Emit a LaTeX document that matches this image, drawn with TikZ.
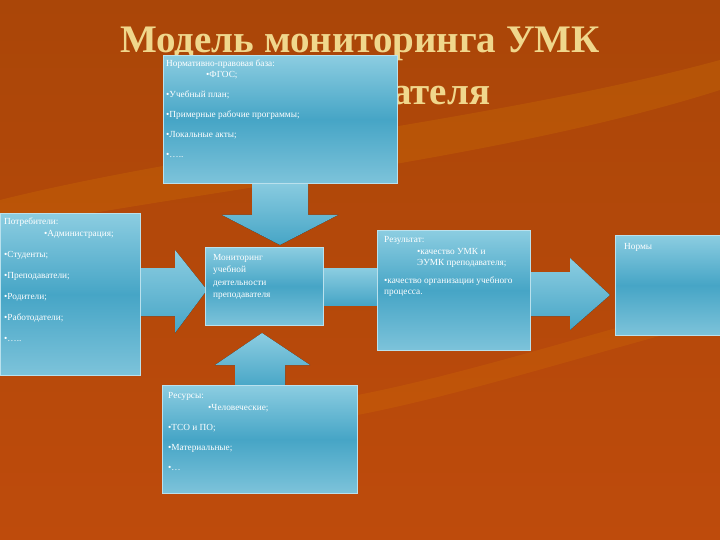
\documentclass[tikz,border=0pt]{standalone}
\usepackage{fontspec}
\setmainfont{Liberation Serif}
\definecolor{btop}{RGB}{140,205,225}
\definecolor{bmid}{RGB}{70,165,198}
\definecolor{bbot}{RGB}{125,195,218}
\definecolor{bgA}{RGB}{170,70,8}
\definecolor{bgB}{RGB}{190,75,12}
\definecolor{ttl}{RGB}{240,215,140}
\begin{document}
\begin{tikzpicture}[x=1pt,y=-1pt,
 boxs/.style={draw=btop!60!white,line width=0.6pt,top color=btop,bottom color=bbot,middle color=bmid},
 arr/.style={top color=btop,bottom color=bmid,draw=none},
 txt/.style={text=white,font=\fontsize{9.3}{11}\selectfont,align=left,anchor=north west,inner sep=0pt}]
\useasboundingbox (0,0) rectangle (720,540);
\fill[top color=bgA,bottom color=bgB] (0,0) rectangle (720,540);
\fill[orange!60!yellow,opacity=0.12] (0,200) .. controls (200,150) and (500,120) .. (720,60) -- (720,90) .. controls (500,160) and (200,190) .. (0,230) -- cycle;
\fill[orange!60!yellow,opacity=0.10] (330,400) .. controls (450,380) and (600,330) .. (720,300) -- (720,320) .. controls (600,350) and (450,400) .. (330,420) -- cycle;
\node[font=\fontsize{39}{52}\selectfont\bfseries,text=ttl,align=center] (title) at (360,70) {Модель мониторинга УМК\\ преподавателя};
% arrows
\fill[arr] (252,180) -- (308,180) -- (308,215) -- (338,215) -- (280,245) -- (222,215) -- (252,215) -- cycle;
\fill[arr] (138,268) -- (175,268) -- (175,250) -- (207,290) -- (175,333) -- (175,316) -- (138,316) -- cycle;
\fill[arr] (320,268) -- (380,268) -- (380,305) -- (320,305) -- cycle;
\fill[arr] (235,388) -- (235,365) -- (215,365) -- (262,333) -- (310,365) -- (285,365) -- (285,388) -- cycle;
\fill[arr] (528,272) -- (570,272) -- (570,258) -- (610,295) -- (570,330) -- (570,316) -- (528,316) -- cycle;
% boxes
\node[boxs,minimum width=234,minimum height=128,anchor=north west,inner sep=0] (norm) at (163,55) {};
\node[txt] (normt) at (166,60) {Нормативно-правовая база:\\[0pt]\hspace*{40pt}•ФГОС;\\[9pt]•Учебный план;\\[9pt]•Примерные рабочие программы;\\[9pt]•Локальные акты;\\[9pt]•…..};
\node[boxs,minimum width=140,minimum height=162,anchor=north west,inner sep=0] (cons) at (0,213) {};
\node[txt] (const) at (4,218) {Потребители:\\[1pt]\hspace*{40pt}•Администрация;\\[10pt]•Студенты;\\[10pt]•Преподаватели;\\[10pt]•Родители;\\[10pt]•Работодатели;\\[10pt]•…..};
\node[boxs,minimum width=118,minimum height=78,anchor=north west,inner sep=0] (mon) at (205,247) {};
\node[txt,font=\fontsize{9.3}{12.5}\selectfont] (mont) at (213,254) {Мониторинг\\учебной\\деятельности\\преподавателя};
\node[boxs,minimum width=195,minimum height=108,anchor=north west,inner sep=0] (res) at (162,385) {};
\node[txt] (rest) at (168,392) {Ресурсы:\\[1pt]\hspace*{40pt}•Человеческие;\\[9pt]•ТСО и ПО;\\[9pt]•Материальные;\\[9pt]•…};
\node[boxs,minimum width=153,minimum height=120,anchor=north west,inner sep=0] (rez) at (377,230) {};
\node[txt] (rezt) at (384,236) {Результат:\\[1pt]\hspace*{33pt}\parbox[t]{95pt}{\raggedright•качество УМК и ЭУМК преподавателя;}\\[9pt]\parbox[t]{140pt}{\raggedright•качество организации учебного процесса.}};
\node[boxs,minimum width=106,minimum height=100,anchor=north west,inner sep=0] (nor) at (615,235) {};
\node[txt] (nort) at (624,243) {Нормы};
\end{tikzpicture}
\end{document}
